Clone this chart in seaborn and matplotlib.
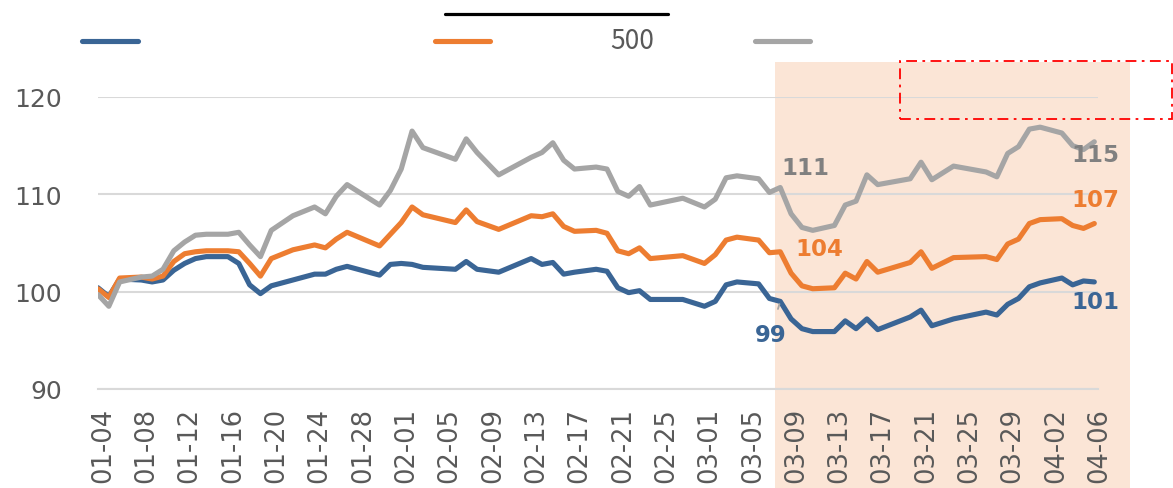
import matplotlib
matplotlib.use("Agg")
import matplotlib.pyplot as plt
import matplotlib.dates as mdates
from matplotlib.lines import Line2D
from matplotlib.patches import Rectangle
import matplotlib.transforms as mtransforms
import numpy as np
import pandas as pd
import seaborn as sns

YEAR = "2023"
DATES = ["01-04","01-05","01-06","01-08","01-09","01-10","01-11","01-12","01-13","01-14",
         "01-16","01-17","01-18","01-19","01-20","01-22","01-24","01-25","01-26","01-27",
         "01-30","01-31","02-01","02-02","02-03","02-06","02-07","02-08","02-10","02-13",
         "02-14","02-15","02-16","02-17","02-19","02-20","02-21","02-22","02-23","02-24",
         "02-27","03-01","03-02","03-03","03-04","03-06","03-07","03-08","03-09","03-10",
         "03-11","03-13","03-14","03-15","03-16","03-17","03-20","03-21","03-22","03-24",
         "03-27","03-28","03-29","03-30","03-31","04-01","04-03","04-04","04-05","04-06"]

SERIES_A = [100.4, 99.5, 101.3, 101.2, 101.0, 101.2, 102.2, 102.9, 103.4, 103.6,
            103.6, 102.9, 100.7, 99.8, 100.6, 101.2, 101.8, 101.8, 102.3, 102.6,
            101.7, 102.8, 102.9, 102.8, 102.5, 102.3, 103.1, 102.3, 102.0, 103.4,
            102.8, 103.0, 101.8, 102.0, 102.3, 102.1, 100.4, 99.9, 100.1, 99.2,
            99.2, 98.5, 99.0, 100.7, 101.0, 100.8, 99.3, 99.0, 97.2, 96.2,
            95.9, 95.9, 97.0, 96.2, 97.2, 96.1, 97.4, 98.1, 96.5, 97.2,
            97.9, 97.6, 98.7, 99.3, 100.5, 100.9, 101.4, 100.7, 101.1, 101.0]
SERIES_B = [100.3, 99.4, 101.4, 101.5, 101.3, 101.6, 103.1, 103.9, 104.1, 104.2,
            104.2, 104.1, 102.9, 101.6, 103.4, 104.3, 104.8, 104.5, 105.4, 106.1,
            104.7, 105.9, 107.1, 108.7, 107.9, 107.1, 108.4, 107.2, 106.4, 107.8,
            107.7, 108.0, 106.7, 106.2, 106.3, 106.0, 104.2, 103.9, 104.5, 103.4,
            103.7, 102.9, 103.8, 105.3, 105.6, 105.3, 104.0, 104.1, 101.9, 100.6,
            100.3, 100.4, 101.9, 101.3, 103.1, 102.0, 103.0, 104.1, 102.4, 103.5,
            103.6, 103.3, 104.9, 105.4, 107.0, 107.4, 107.5, 106.8, 106.5, 107.0]
SERIES_C = [99.7, 98.5, 101.0, 101.5, 101.6, 102.3, 104.2, 105.1, 105.8, 105.9,
            105.9, 106.1, 104.8, 103.6, 106.3, 107.8, 108.7, 108.0, 109.8, 111.0,
            108.9, 110.4, 112.6, 116.5, 114.8, 113.6, 115.7, 114.3, 112.0, 113.8,
            114.3, 115.3, 113.5, 112.6, 112.8, 112.6, 110.3, 109.8, 110.8, 108.9,
            109.6, 108.7, 109.5, 111.7, 111.9, 111.6, 110.2, 110.7, 108.0, 106.6,
            106.3, 106.8, 108.9, 109.3, 112.0, 111.0, 111.6, 113.3, 111.5, 112.9,
            112.3, 111.8, 114.2, 114.9, 116.7, 116.9, 116.3, 115.0, 114.6, 115.4]

SERIES_NAMES = ["A", "B", "C"]
LEGEND_TEXT = ["", "500", ""]
Y_TICKS = [90, 100, 110, 120]
MARK_DATE = "03-08"

COLORS = {"A": "#3A6595", "B": "#ED7D31", "C": "#A5A5A5"}
LABEL_COLORS = {"A": "#3A6595", "B": "#ED7D31", "C": "#808080"}

dates = pd.to_datetime([f"{YEAR}-{d}" for d in DATES])
df = pd.DataFrame({"date": np.tile(dates, 3),
                   "value": SERIES_A + SERIES_B + SERIES_C,
                   "series": np.repeat(SERIES_NAMES, len(DATES))})

sns.set_theme(style="white")
plt.rcParams["font.family"] = ["DejaVu Sans"]

W, H = 1173, 489
fig = plt.figure(figsize=(W / 100, H / 100), dpi=100)
fig.patch.set_facecolor("white")
ax = fig.add_axes([98 / W, 1 - 390 / H, 1000 / W, 292 / H])
ax.set_facecolor("none")

# highlighted period background
fig.add_artist(Rectangle((775 / W, 0), (1130 - 775) / W, (H - 63) / H,
                         transform=fig.transFigure, facecolor="#FBE5D6",
                         edgecolor="none", zorder=-1))

sns.lineplot(data=df, x="date", y="value", hue="series", palette=COLORS,
             linewidth=3.7, ax=ax, legend=False, zorder=3,
             solid_capstyle="round", solid_joinstyle="round")

start = dates[0]
ax.set_xlim(mdates.date2num(start), mdates.date2num(start) + 92.34)
ax.set_ylim(90, 120)
ax.set_yticks(Y_TICKS)
ax.yaxis.grid(True, color="#D9D9D9", linewidth=1.5, zorder=1)
ax.xaxis.grid(False)
ax.set_axisbelow(True)
for s in ["top", "right", "left"]:
    ax.spines[s].set_visible(False)
ax.spines["bottom"].set_color("#D9D9D9")
ax.spines["bottom"].set_linewidth(1.5)

tick_dates = pd.date_range(start, dates[-1], freq="4D")
ax.set_xticks(mdates.date2num(tick_dates))
ax.set_xticklabels([d.strftime("%m-%d") for d in tick_dates], rotation=90,
                   fontsize=18.5, color="#595959")
ax.tick_params(axis="x", length=7, width=1.5, color="#D9D9D9", pad=6, direction="out")
ax.tick_params(axis="y", length=0, pad=26, labelsize=18, labelcolor="#595959")
offset = mtransforms.ScaledTranslation(5 / 100, 0, fig.dpi_scale_trans)
for lbl in ax.get_xticklabels():
    lbl.set_transform(lbl.get_transform() + offset)
ax.set_xlabel("")
ax.set_ylabel("")

# data labels
series_vals = {"A": SERIES_A, "B": SERIES_B, "C": SERIES_C}
mi = DATES.index(MARK_DATE)
mark_offsets = {"C": (25, 20), "B": (39, 3), "A": (-10, -33)}
end_offsets = {"C": (1, -13), "B": (1, 24), "A": (1, -20)}
for name in SERIES_NAMES:
    vals = series_vals[name]
    dx, dy = mark_offsets[name]
    arrow = None
    if name == "A":
        arrow = dict(arrowstyle="-", color="#A5A5A5", lw=1.3, shrinkA=8, shrinkB=2)
    ax.annotate(f"{vals[mi]:.0f}", xy=(mdates.date2num(dates[mi]), vals[mi]),
                xytext=(dx, -dy) if False else (dx, dy), textcoords="offset pixels",
                ha="center", va="center", fontsize=16.5, fontweight="bold",
                color=LABEL_COLORS[name], arrowprops=arrow, zorder=5,
                annotation_clip=False)
    ex, ey = end_offsets[name]
    ax.annotate(f"{vals[-1]:.0f}", xy=(mdates.date2num(dates[-1]), vals[-1]),
                xytext=(ex, ey), textcoords="offset pixels", ha="center", va="center",
                fontsize=16.5, fontweight="bold", color=LABEL_COLORS[name], zorder=5,
                annotation_clip=False)

# legend (manual, matching layout)
legend_x = [(82, 138), (435, 490), (755, 810)]
for (x0, x1), name in zip(legend_x, SERIES_NAMES):
    fig.add_artist(Line2D([x0 / W, x1 / W], [1 - 42 / H] * 2, transform=fig.transFigure,
                          color=COLORS[name], linewidth=3.7, solid_capstyle="round"))
fig.text(610 / W, 1 - 42 / H, LEGEND_TEXT[1], fontsize=19, color="#595959",
         ha="left", va="center", family=["Noto Sans CJK SC", "DejaVu Sans"],
         fontweight="light")
fig.add_artist(Line2D([445 / W, 668 / W], [1 - 15 / H] * 2, transform=fig.transFigure,
                      color="black", linewidth=2.3))

# red dash-dot box
fig.add_artist(Rectangle((900 / W, 1 - 120 / H), (1172 - 900) / W, (120 - 62) / H,
                         transform=fig.transFigure, fill=False, edgecolor="#FF0000",
                         linewidth=1.3, linestyle=(0, (6, 3, 1.5, 3)), zorder=6))

fig.savefig("out.png", dpi=100)
